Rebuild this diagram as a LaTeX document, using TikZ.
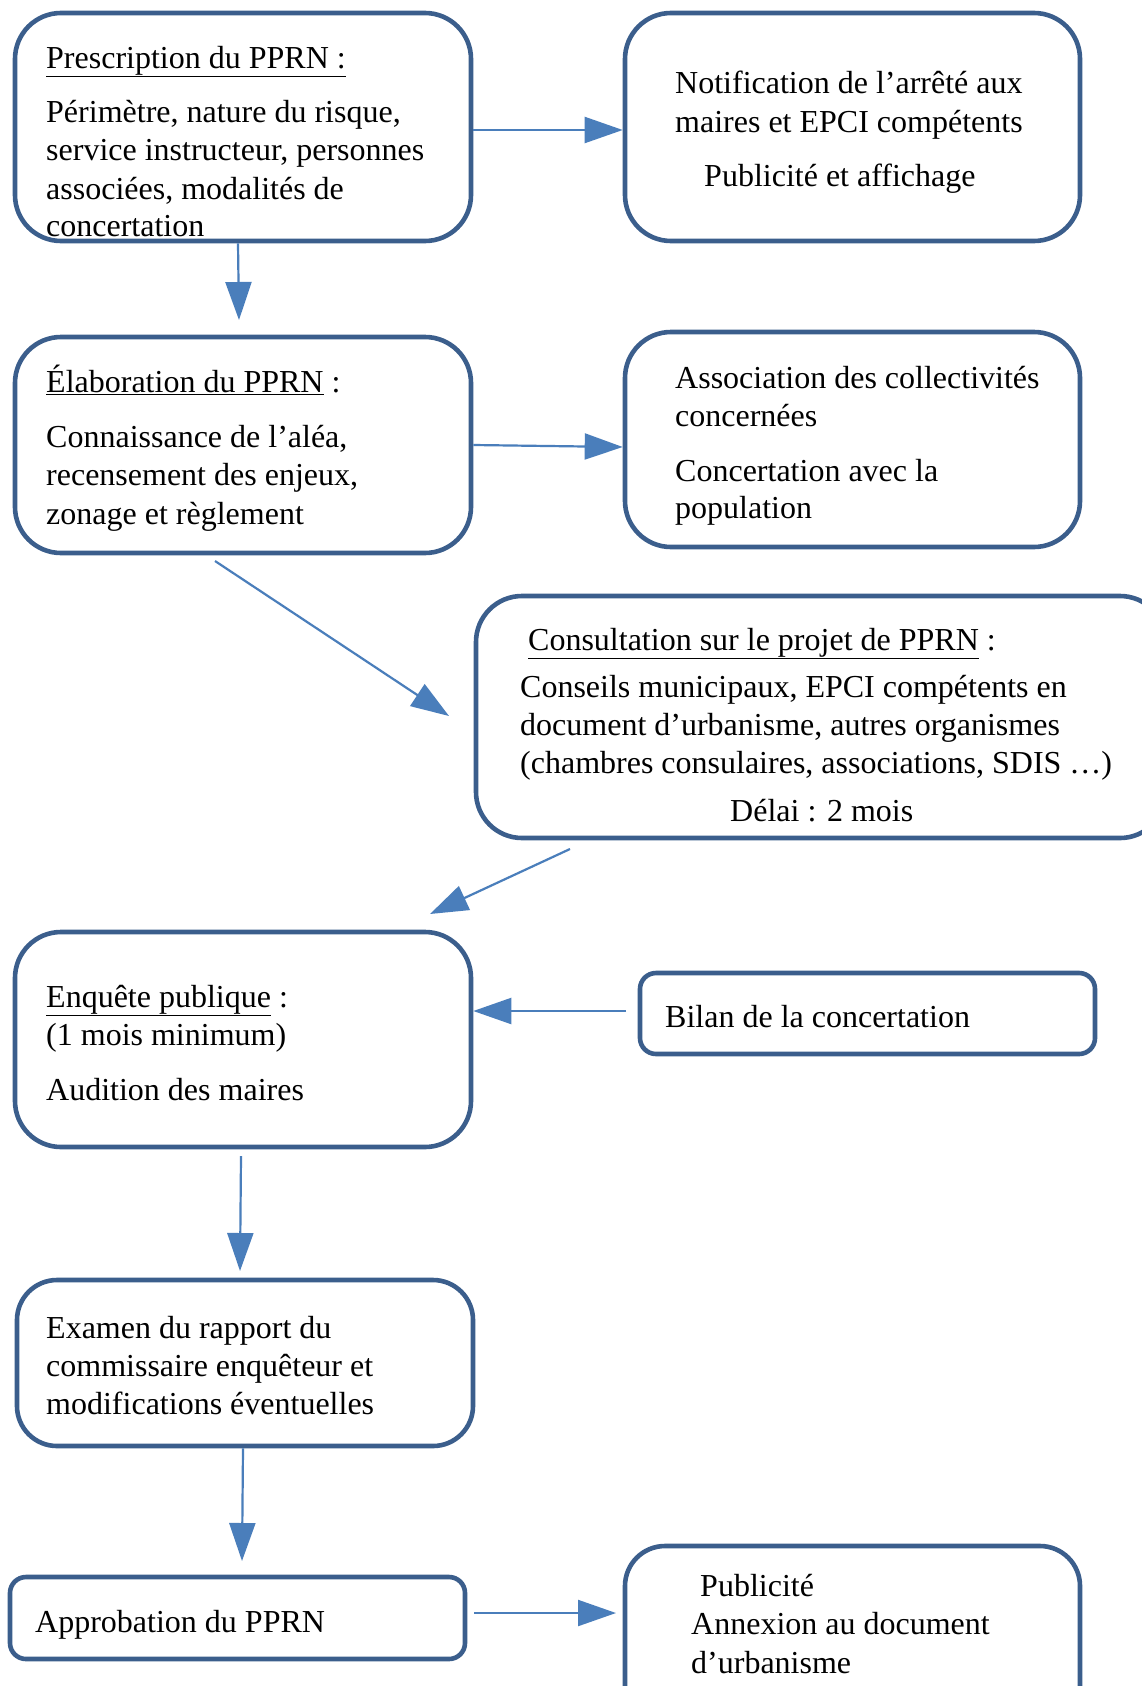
\documentclass[tikz,border=0pt]{standalone}
\usepackage{fontspec}
\setmainfont{Liberation Serif}
\usetikzlibrary{arrows.meta}
\definecolor{boxblue}{HTML}{3B5E8C}
\definecolor{arrblue}{HTML}{4A7EBB}
\tikzset{
  box/.style={draw=boxblue, line width=4.6pt, rounded corners=46pt, fill=white, inner sep=0pt},
  flatbox/.style={box, rounded corners=16pt},
  arr/.style={draw=arrblue, line width=2.2pt, -{Triangle[length=38pt,width=26pt]}},
  txt/.style={anchor=base west, inner sep=0pt, yshift=-2pt, font=\fontsize{32}{38}\selectfont},
}
\newcommand{\ulx}[1]{\underline{#1}}
\begin{document}
\begin{tikzpicture}[x=1pt,y=-1pt]
\clip (0,0) rectangle (1142,1686);
\fill[white] (0,0) rectangle (1142,1686);

% boxes
\node[box, minimum width=456pt, minimum height=228pt] (b1) at (243,127) {};
\node[box, minimum width=455pt, minimum height=228pt] (b2) at (852.5,127) {};
\node[box, minimum width=456pt, minimum height=216pt] (b3) at (243,445) {};
\node[box, minimum width=455pt, minimum height=215pt] (b4) at (852.5,439.5) {};
\node[box, minimum width=690pt, minimum height=242pt] (b5) at (821,717) {};
\node[box, minimum width=456pt, minimum height=215pt] (b6) at (243,1039.5) {};
\node[flatbox, minimum width=455pt, minimum height=81pt] (b7) at (867.5,1013.5) {};
\node[box, rounded corners=40pt, minimum width=456pt, minimum height=166pt] (b8) at (245,1363) {};
\node[flatbox, minimum width=455pt, minimum height=82pt] (b9) at (237.5,1618) {};
\node[box, rounded corners=40pt, minimum width=455pt, minimum height=180pt] (b10) at (852.5,1636) {};

% texts
\node[txt] (t1a) at (46,66) {\ulx{Prescription du PPRN :}};
\node[txt] (t1b) at (46,120) {Périmètre, nature du risque,};
\node[txt] (t1c) at (46,158) {service instructeur, personnes};
\node[txt] (t1d) at (46,197) {associées, modalités de};
\node[txt] (t1e) at (46,234) {concertation};

\node[txt] (t2a) at (675,91) {Notification de l’arrêté aux};
\node[txt] (t2b) at (675,130) {maires et EPCI compétents};
\node[txt] (t2c) at (704,184) {Publicité et affichage};

\node[txt] (t3a) at (46,390) {\ulx{Élaboration du PPRN} :};
\node[txt] (t3b) at (46,445) {Connaissance de l’aléa,};
\node[txt] (t3c) at (46,483) {recensement des enjeux,};
\node[txt] (t3d) at (46,522) {zonage et règlement};

\node[txt] (t4a) at (675,386) {Association des collectivités};
\node[txt] (t4b) at (675,424) {concernées};
\node[txt] (t4c) at (675,479) {Concertation avec la};
\node[txt] (t4d) at (675,516) {population};

\node[txt] (t5a) at (528,648) {\ulx{Consultation sur le projet de PPRN} :};
\node[txt] (t5b) at (520,695) {Conseils municipaux, EPCI compétents en};
\node[txt] (t5c) at (520,733) {document d’urbanisme, autres organismes};
\node[txt] (t5d) at (520,771) {(chambres consulaires, associations, SDIS …)};
\node[txt] (t5e) at (730,819) {Délai : 2 mois};

\node[txt] (t6a) at (46,1005) {\ulx{Enquête publique} :};
\node[txt] (t6b) at (46,1043) {(1 mois minimum)};
\node[txt] (t6c) at (46,1098) {Audition des maires};

\node[txt] (t7a) at (665,1025) {Bilan de la concertation};

\node[txt] (t8a) at (46,1336) {Examen du rapport du};
\node[txt] (t8b) at (46,1374) {commissaire enquêteur et};
\node[txt] (t8c) at (46,1412) {modifications éventuelles};

\node[txt] (t9a) at (35,1630) {Approbation du PPRN};

\node[txt] (t10a) at (700,1594) {Publicité};
\node[txt] (t10b) at (691,1632) {Annexion au document};
\node[txt] (t10c) at (691,1671) {d’urbanisme};

% connector end points
\coordinate (c1) at (239,320);
\coordinate (d1s) at (215,561);
\coordinate (d1e) at (449,716);
\coordinate (d2s) at (570,849);
\coordinate (d2e) at (430,914);
\coordinate (c7) at (626,1011);
\coordinate (c6s) at (241,1156);
\coordinate (c6e) at (240,1271);
\coordinate (c8e) at (242,1561);
\coordinate (c9s) at (474,1613);
\coordinate (c9e) at (616,1613);

% connectors
\draw[arr] (b1.east |- 0,130) -- (b2.west |- 0,130);
\draw[arr] (b1.south -| 238,0) -- (c1);
\draw[arr] (b3.east |- 0,445) -- (b4.west |- 0,447);
\draw[arr] (d1s) -- (d1e);
\draw[arr] (d2s) -- (d2e);
\draw[arr] (c7) -- (b6.east |- 0,1011);
\draw[arr] (c6s) -- (c6e);
\draw[arr] (b8.south -| 243,0) -- (c8e);
\draw[arr] (c9s) -- (c9e);
\end{tikzpicture}
\end{document}
